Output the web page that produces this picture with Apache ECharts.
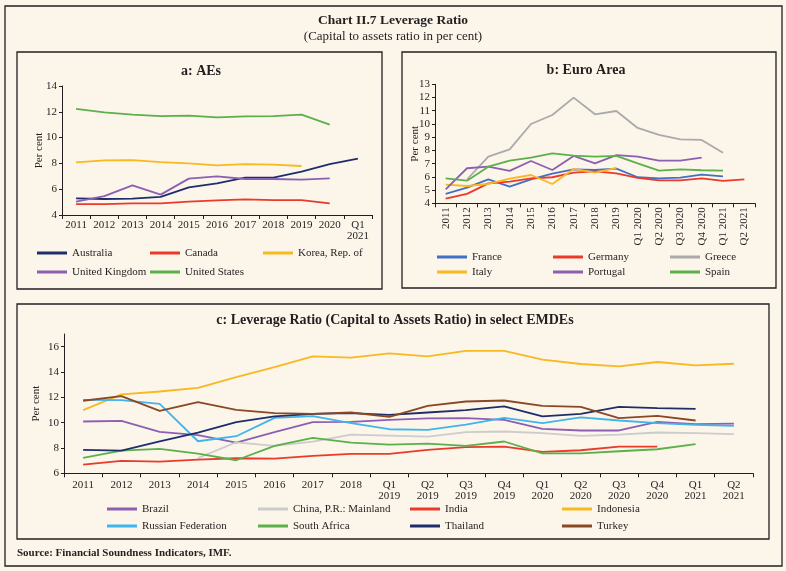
<!DOCTYPE html>
<html><head><meta charset="utf-8">
<script src="https://cdn.jsdelivr.net/npm/echarts@6/dist/echarts.min.js"></script>
<style>html,body{margin:0;padding:0;background:#fbf5ea;} #c{width:786px;height:571px;}</style>
</head><body><div id="c"></div>
<script>
// ---------- DATA ----------
const catA = ['2011','2012','2013','2014','2015','2016','2017','2018','2019','2020','Q1\n2021'];
const australia = [5.29,5.24,5.27,5.4,6.14,6.45,6.9,6.9,7.36,7.95,8.37];
const canada    = [4.85,4.85,4.9,4.9,5.03,5.14,5.21,5.16,5.16,4.9,null];
const korea     = [8.08,8.24,8.26,8.1,8.0,7.85,7.95,7.9,7.8,null,null];
const uk        = [5.03,5.47,6.3,5.58,6.82,7.0,6.79,6.79,6.74,6.84,null];
const us        = [12.22,11.96,11.78,11.67,11.7,11.57,11.65,11.67,11.78,11.0,null];

const catB = ['2011','2012','2013','2014','2015','2016','2017','2018','2019','Q1 2020','Q2 2020','Q3 2020','Q4 2020','Q1 2021','Q2 2021'];
const france   = [4.71,5.18,5.81,5.26,5.81,6.24,6.57,6.52,6.62,5.97,5.89,5.94,6.17,6.04,null];
const germany  = [4.35,4.71,5.51,5.64,5.89,5.97,6.32,6.42,6.27,5.92,5.74,5.74,5.89,5.69,5.81];
const greece   = [null,5.8,7.53,8.08,10.0,10.68,11.99,10.73,10.98,9.7,9.17,8.84,8.79,7.83,null];
const italy    = [5.41,5.31,5.46,5.87,6.14,5.46,6.6,6.32,6.67,null,null,null,null,null,null];
const portugal = [5.06,6.65,6.77,6.45,7.2,6.52,7.58,7.02,7.65,7.53,7.23,7.23,7.45,null,null];
const spain    = [5.89,5.71,6.77,7.23,7.45,7.78,7.6,7.53,7.58,7.02,6.47,6.57,6.5,6.47,null];

const catC = ['2011','2012','2013','2014','2015','2016','2017','2018','Q1\n2019','Q2\n2019','Q3\n2019','Q4\n2019','Q1\n2020','Q2\n2020','Q3\n2020','Q4\n2020','Q1\n2021','Q2\n2021'];
const brazil    = [10.09,10.14,9.27,9.01,8.43,9.25,10.04,10.06,10.22,10.33,10.35,10.22,9.51,9.38,9.38,10.06,9.88,9.93];
const china     = [null,null,null,7.2,8.45,8.16,8.5,9.06,8.98,8.9,9.25,9.3,9.17,8.96,9.06,9.22,9.17,9.09];
const india     = [6.69,6.98,6.92,7.08,7.19,7.16,7.37,7.53,7.53,7.85,8.06,8.11,7.69,7.82,8.11,8.11,null,null];
const indonesia = [10.99,12.23,12.46,12.75,13.6,14.39,15.23,15.13,15.47,15.23,15.66,15.66,14.97,14.63,14.44,14.79,14.52,14.65];
const russia    = [11.8,11.78,11.49,8.53,8.93,10.38,10.51,9.96,9.48,9.43,9.85,10.38,9.96,10.41,10.17,9.96,9.83,9.75];
const safrica   = [7.21,7.79,7.93,7.56,7.03,8.16,8.8,8.43,8.27,8.35,8.16,8.51,7.58,7.58,7.74,7.9,8.3,null];
const thailand  = [7.85,7.79,8.53,9.22,10.04,10.49,10.7,10.75,10.62,10.8,10.99,11.28,10.49,10.7,11.25,11.15,11.09,null];
const turkey    = [11.73,12.1,10.93,11.62,11.01,10.75,10.7,10.8,10.46,11.33,11.67,11.75,11.33,11.25,10.35,10.54,10.17,null];

const yTicksC = [6,8,10,12,14,16];

// ---------- STYLE ----------
const FONT = 'Liberation Serif';
const INK = '#231f20';
const BG = '#fbf5ea';
const C = {navy:'#1f2d6b', red:'#ea3a2b', yellow:'#f8b81f', purple:'#8c5fb3', green:'#5cb04a',
           blue:'#4270c4', gray:'#aaaaaa', lgray:'#cccccc', lblue:'#3fb5ee', brown:'#8a4824'};

const seriesDefs = [
  ['Australia', australia, C.navy, 0],
  ['Canada', canada, C.red, 0],
  ['Korea, Rep. of', korea, C.yellow, 0],
  ['United Kingdom', uk, C.purple, 0],
  ['United States', us, C.green, 0],
  ['France', france, C.blue, 1],
  ['Germany', germany, C.red, 1],
  ['Greece', greece, C.gray, 1],
  ['Italy', italy, C.yellow, 1],
  ['Portugal', portugal, C.purple, 1],
  ['Spain', spain, C.green, 1],
  ['Brazil', brazil, C.purple, 2],
  ['China, P.R.: Mainland', china, C.lgray, 2],
  ['India', india, C.red, 2],
  ['Indonesia', indonesia, C.yellow, 2],
  ['Russian Federation', russia, C.lblue, 2],
  ['South Africa', safrica, C.green, 2],
  ['Thailand', thailand, C.navy, 2],
  ['Turkey', turkey, C.brown, 2]
];

const legendLayout = {
  'Australia':[37,253],'Canada':[150,253],'Korea, Rep. of':[263,253],
  'United Kingdom':[37,272],'United States':[150,272],
  'France':[437,257],'Germany':[553,257],'Greece':[670,257],
  'Italy':[437,272],'Portugal':[553,272],'Spain':[670,272],
  'Brazil':[107,509],'China, P.R.: Mainland':[258,509],'India':[410,509],'Indonesia':[562,509],
  'Russian Federation':[107,526],'South Africa':[258,526],'Thailand':[410,526],'Turkey':[562,526]
};

const chart = echarts.init(document.getElementById('c'), null, {renderer:'canvas'});

const lbl = {fontFamily: FONT, fontSize: 11, color: INK};
function xAxis(idx, data, extra) {
  return Object.assign({
    type:'category', gridIndex: idx, data: data, boundaryGap: true,
    axisLine:{lineStyle:{color:INK, width:1}},
    axisTick:{show:true, length:4, lineStyle:{color:INK}},
    axisLabel: Object.assign({}, lbl, {interval:0, margin:5, lineHeight:11}),
    splitLine:{show:false}
  }, extra || {});
}
function yAxis(idx, min, max, interval, nameGap, extra) {
  return Object.assign({
    type:'value', gridIndex: idx, min: min, max: max, interval: interval,
    name:'Per cent', nameLocation:'middle', nameGap: nameGap, nameRotate: 90,
    nameMoveOverlap: false,
    nameTextStyle:{fontFamily:FONT, fontSize:11, color:INK},
    axisLine:{show:true, lineStyle:{color:INK, width:1}},
    axisTick:{show:true, length:3, lineStyle:{color:INK}},
    axisLabel: Object.assign({}, lbl, {margin:5}),
    splitLine:{show:false}
  }, extra || {});
}

const legends = seriesDefs.map(d => ({
  data:[d[0]], left: legendLayout[d[0]][0], top: legendLayout[d[0]][1] - 6,
  orient:'horizontal', icon:'rect', itemWidth:30, itemHeight:3, padding:0,
  selectedMode:false,
  textStyle:{fontFamily:FONT, fontSize:11, color:INK, lineHeight:12}
}));

function txt(text, x, y, size, bold, align) {
  return {type:'text', x: x, y: y, silent:true,
    style:{text:text, x:0, y:0, fill:INK, font:(bold?'bold ':'') + size + 'px "' + FONT + '"',
      textAlign: align || 'center', textVerticalAlign:'middle', align: align || 'center', verticalAlign:'middle'}};
}
function box(x, y, w, h) {
  return {type:'rect', shape:{x:x, y:y, width:w, height:h}, silent:true,
    style:{fill:'none', stroke:INK, lineWidth:1.3}};
}

const option = {
  backgroundColor: BG,
  animation:false,
  grid:[
    {left:62, top:86, width:310, height:129},
    {left:435, top:84.3, width:320, height:119},
    {left:64, top:334, width:689, height:139.3}
  ],
  xAxis:[
    xAxis(0, catA),
    xAxis(1, catB, {axisLabel:Object.assign({}, lbl, {interval:0, rotate:90, margin:4})}),
    xAxis(2, catC, {axisLabel:Object.assign({}, lbl, {interval:0, margin:6, lineHeight:11})})
  ],
  yAxis:[
    yAxis(0, 4, 14, 2, 17),
    yAxis(1, 4, 13, 1, 14),
    yAxis(2, 6, 17, 2, 22, {
      axisLabel:Object.assign({}, lbl, {margin:5, customValues: yTicksC}),
      axisTick:{show:true, length:3, lineStyle:{color:INK}, customValues: yTicksC}
    })
  ],
  legend: legends,
  series: seriesDefs.map(d => ({
    name:d[0], type:'line', xAxisIndex:d[3], yAxisIndex:d[3], data:d[1],
    symbol:'none', connectNulls:false, color:d[2],
    lineStyle:{color:d[2], width:1.8}, itemStyle:{color:d[2]}
  })),
  graphic:[
    box(5, 6, 777, 560),
    box(17, 52, 365, 237),
    box(402, 52, 374, 236),
    box(17, 304, 752, 235),
    txt('Chart II.7 Leverage Ratio', 393, 21, 13.5, true),
    txt('(Capital to assets ratio in per cent)', 393, 37, 13, false),
    txt('a: AEs', 201, 71, 14, true),
    txt('b: Euro Area', 586, 70, 14, true),
    txt('c: Leverage Ratio (Capital to Assets Ratio) in select EMDEs', 395, 320, 14, true),
    txt('Source: Financial Soundness Indicators, IMF.', 17, 553, 11, true, 'left')
  ]
};
chart.setOption(option);
</script></body></html>
